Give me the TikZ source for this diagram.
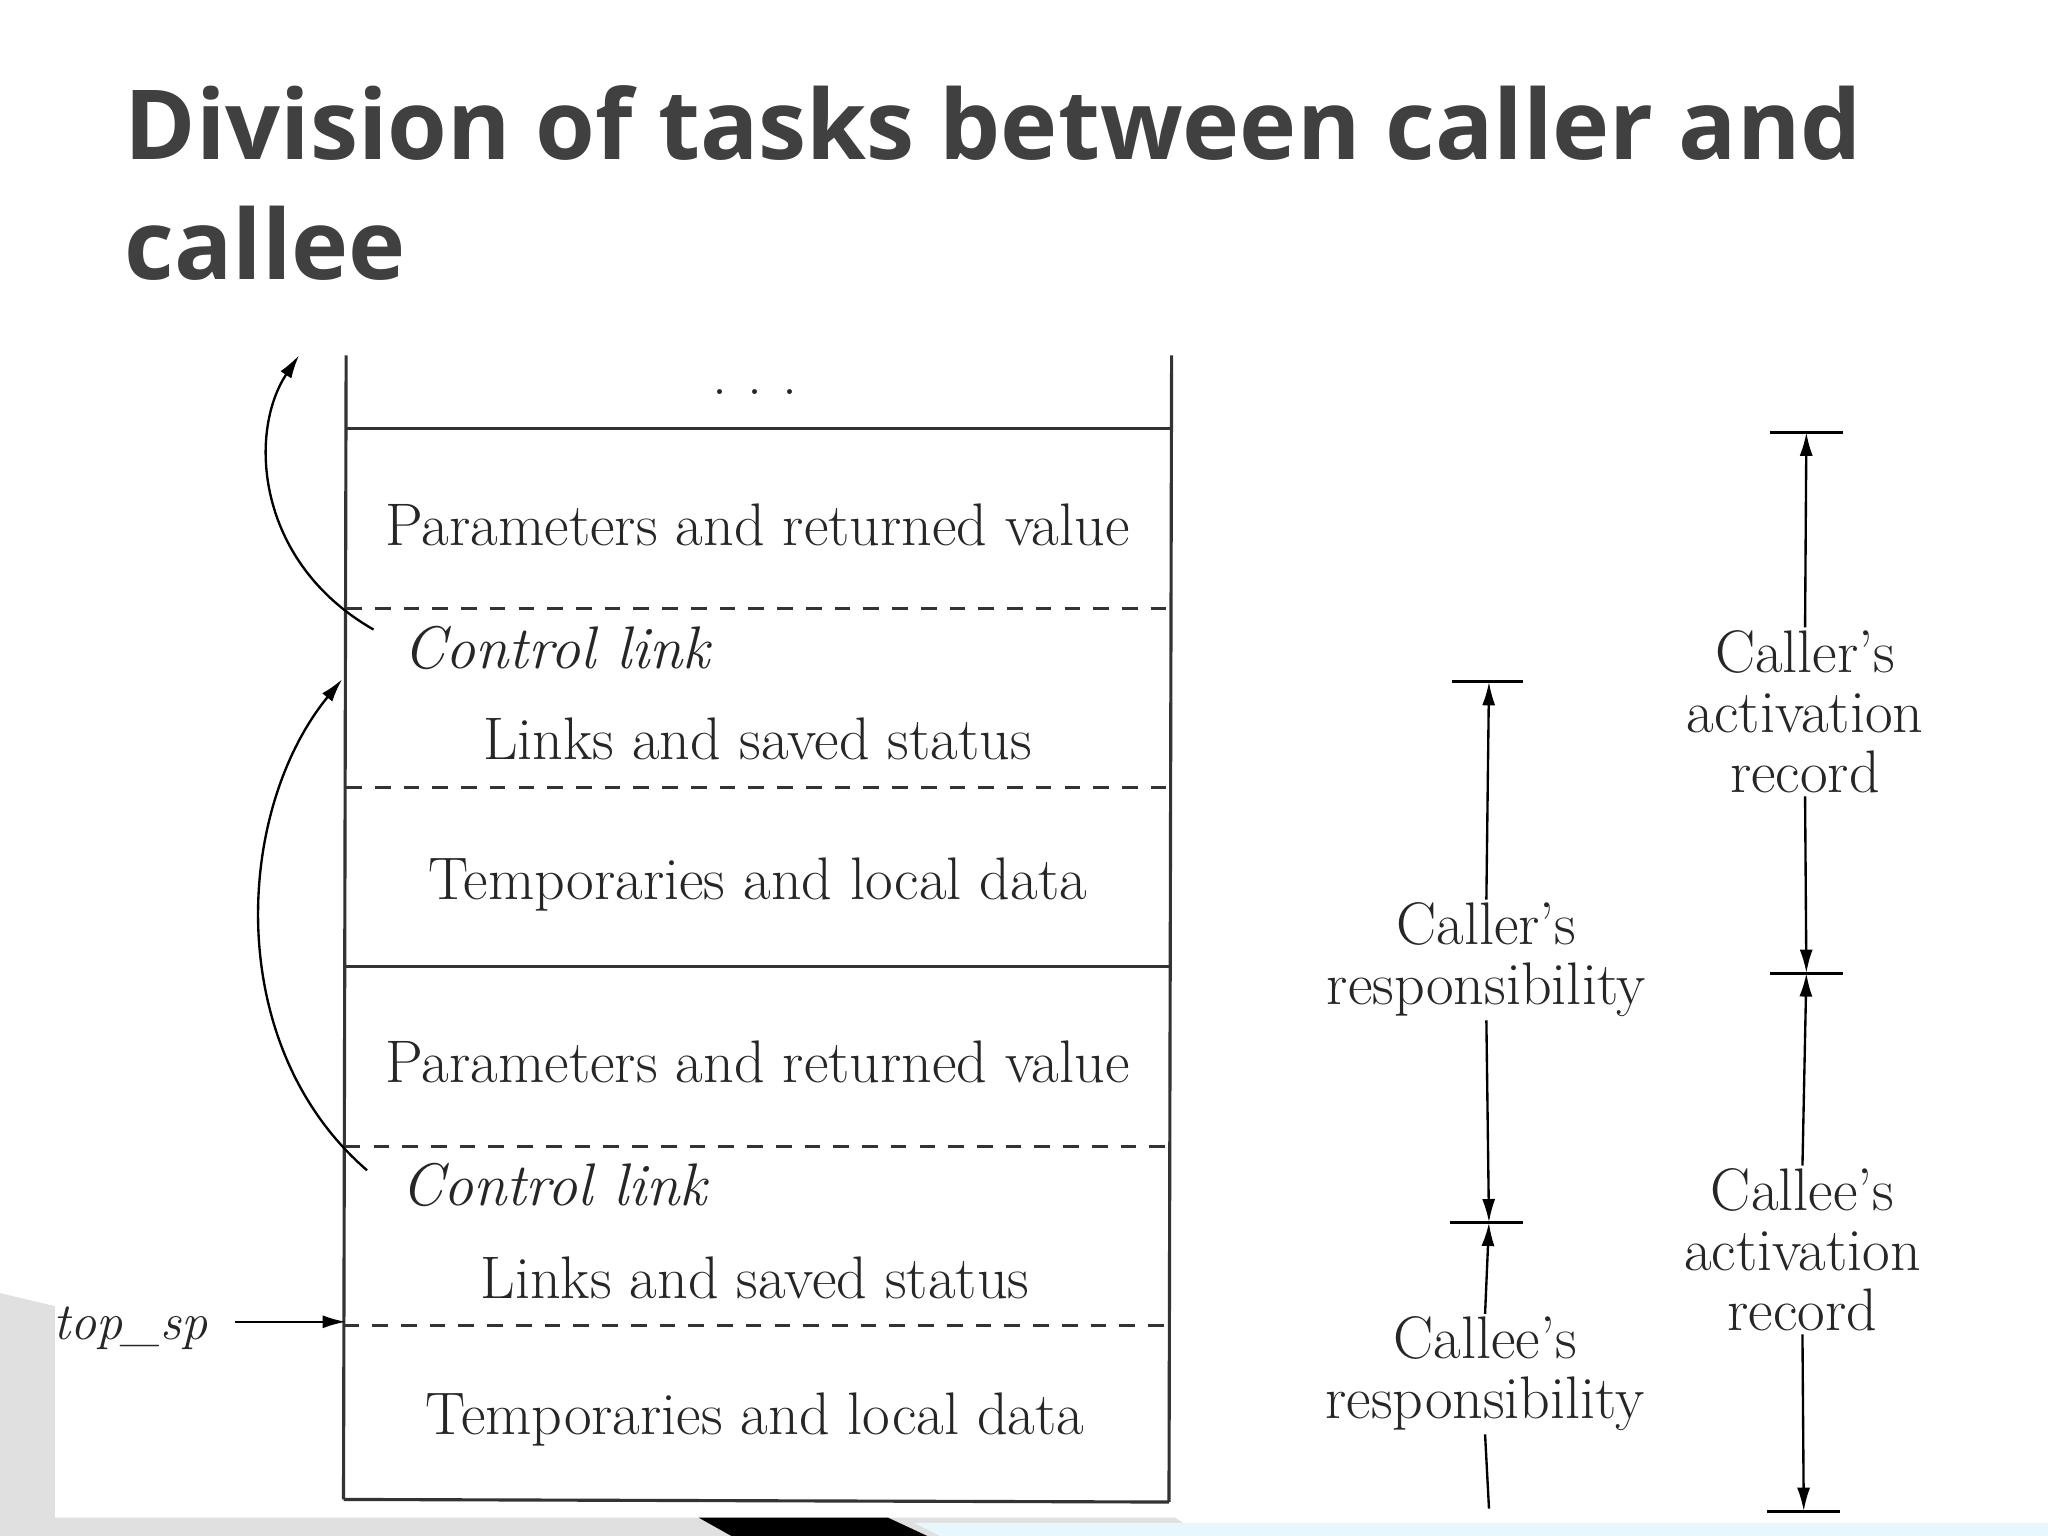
\documentclass[tikz,border=0pt]{standalone}
\usepackage{fontspec}
\newfontfamily\titlefont{Open Sans}
\usetikzlibrary{arrows.meta}
\definecolor{titlegray}{HTML}{404040}
\begin{document}
\begin{tikzpicture}[x=0.5pt,y=-0.5pt,
  lab/.style={font=\fontsize{23}{23}\selectfont, text=black!85},
  ilab/.style={lab, font=\fontsize{23}{23}\selectfont\itshape},
  solidline/.style={line width=1.2pt, black!80},
  dashline/.style={line width=1.1pt, black!80, dash pattern=on 6pt off 5pt},
  arr/.style={line width=0.9pt, -{Latex[length=9pt,width=5pt]}},
  bar/.style={line width=1.1pt}]
\useasboundingbox (0,0) rectangle (1568,1176);
\fill[white] (0,0) rectangle (1568,1176);
% theme decoration
\fill[black!12] (0,990) -- (42,1000) -- (42,1162) -- (900,1162) -- (920,1176) -- (0,1176) -- cycle;
\fill[black] (535,1162) -- (680,1162) -- (710,1176) -- (560,1176) -- cycle;
\fill[cyan!10] (700,1166) -- (1568,1166) -- (1568,1176) -- (720,1176) -- cycle;
% title
\node[anchor=west, font=\titlefont\bfseries\fontsize{37}{46}\selectfont, text=titlegray, align=left, inner sep=0pt] (title) at (95,140) {Division of tasks between caller and\\callee};
% stack
\draw[solidline] (265,272) -- (263,1148);
\draw[solidline] (897,272) -- (895,1150);
\draw[solidline] (265,328) -- (897,328);
\draw[dashline] (265,466) -- (897,466);
\draw[dashline] (265,603) -- (897,603);
\draw[solidline] (264,740) -- (896,740);
\draw[dashline] (264,878) -- (896,878);
\draw[dashline] (263,1015) -- (895,1015);
\draw[solidline] (263,1148) -- (895,1150);
\node[lab] (dots) at (578,300) {.\,\,.\,\,.};
\node[lab] (p1) at (580,402) {Parameters and returned value};
\node[ilab, anchor=west] (c1) at (302,496) {Control link};
\node[lab] (l1) at (580,566) {Links and saved status};
\node[lab] (t1) at (580,677) {Temporaries and local data};
\node[lab] (p2) at (580,813) {Parameters and returned value};
\node[ilab, anchor=west] (c2) at (300,907) {Control link};
\node[lab] (l2) at (578,978) {Links and saved status};
\node[lab] (t2) at (578,1087) {Temporaries and local data};
\coordinate (up1) at (229,272);
\coordinate (s1) at (286,482);
\coordinate (s2) at (281,896);
\coordinate (e2) at (262,520);
\draw[arr] (s1) .. controls (195,430) and (190,330) .. (up1);
\draw[arr] (s2) .. controls (170,800) and (180,620) .. (e2);
\node[ilab, font=\fontsize{20}{20}\selectfont\itshape] (tsp) at (100,1017) {top\_sp};
\coordinate (tspe) at (265,1012);
\draw[arr] (180,1012) -- (tspe);
% caller's responsibility
\coordinate (cr1) at (1140,522); \coordinate (cr2) at (1140,936); \coordinate (ce2) at (1140,1155);
\draw[bar] (1112,522) -- (1166,522);
\draw[bar] (1110,936) -- (1166,936);
\node[lab, align=center, fill=white, inner sep=1pt] (crt) at (1138,735) {Caller's\\responsibility};
\draw[arr] (crt.north) -- (cr1);
\draw[arr] (crt.south) -- (cr2);
\node[lab, align=center, fill=white, inner sep=1pt] (cet) at (1137,1052) {Callee's\\responsibility};
\draw[arr] (cet.north) -- (cr2);
\draw[line width=0.9pt] (cet.south) -- (ce2);
% activation records
\coordinate (a1) at (1383,331); \coordinate (a2) at (1383,745); \coordinate (a3) at (1381,1157);
\draw[bar] (1355,331) -- (1411,331);
\draw[bar] (1355,745) -- (1411,745);
\draw[bar] (1353,1157) -- (1409,1157);
\node[lab, align=center, fill=white, inner sep=1pt] (cat) at (1382,545) {Caller's\\activation\\record};
\draw[arr] (cat.north) -- (a1);
\draw[arr] (cat.south) -- (a2);
\node[lab, align=center, fill=white, inner sep=1pt] (eat) at (1380,957) {Callee's\\activation\\record};
\draw[arr] (eat.north) -- (a2);
\draw[arr] (eat.south) -- (a3);
\end{tikzpicture}
\end{document}
